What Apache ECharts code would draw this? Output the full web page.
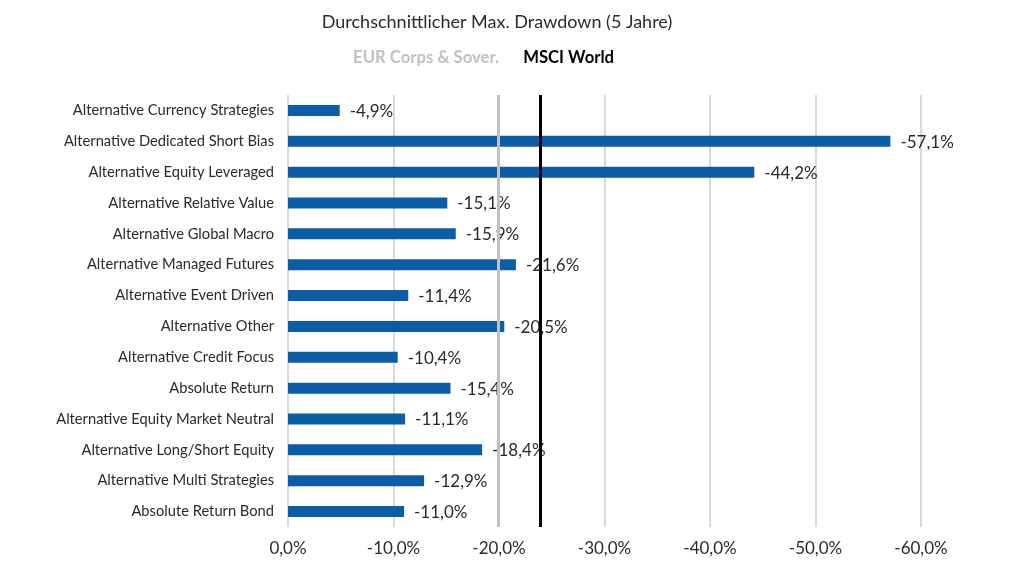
<!DOCTYPE html>
<html>
<head>
<meta charset="utf-8">
<script src="https://cdn.jsdelivr.net/npm/echarts@6/dist/echarts.min.js"></script>
<style>
  html, body { margin: 0; padding: 0; background: #fff; }
  #chart { width: 1015px; height: 571px; }
</style>
</head>
<body>
<div id="chart"></div>
<script>
const categories = [
  "Alternative Currency Strategies",
  "Alternative Dedicated Short Bias",
  "Alternative Equity Leveraged",
  "Alternative Relative Value",
  "Alternative Global Macro",
  "Alternative Managed Futures",
  "Alternative Event Driven",
  "Alternative Other",
  "Alternative Credit Focus",
  "Absolute Return",
  "Alternative Equity Market Neutral",
  "Alternative Long/Short Equity",
  "Alternative Multi Strategies",
  "Absolute Return Bond",
];

const drawdown = [-4.9, -57.1, -44.2, -15.1, -15.9, -21.6, -11.4, -20.5, -10.4, -15.4, -11.1, -18.4, -12.9, -11.0];

// benchmark lines
const benchmarks = [
  { name: "EUR Corps & Sover.", value: -19.9, color: "#c0c0c0" },
  { name: "MSCI World", value: -23.9, color: "#000000" },
];

const fmt = (v) => v.toFixed(1).replace(".", ",") + "%";
const FONT = "Lato";

const chartDom = document.getElementById("chart");
const myChart = echarts.init(chartDom);

myChart.setOption({
  animation: false,
  textStyle: { fontFamily: FONT },
  title: {
    text: "Durchschnittlicher Max. Drawdown (5 Jahre)",
    left: 492,
    textAlign: "center",
    top: 8,
    textStyle: { fontFamily: FONT, fontSize: 18, fontWeight: "normal", color: "#2a2a2a" },
  },
  grid: { left: 288, right: 94, top: 95, bottom: 44, containLabel: false },
  xAxis: {
    type: "value",
    min: -60,
    max: 0,
    interval: 10,
    inverse: true,
    axisLine: { show: false },
    axisTick: { show: false },
    splitLine: { lineStyle: { color: "#d9d9d9", width: 2 } },
    axisLabel: {
      formatter: (v) => fmt(v),
      fontFamily: FONT,
      fontSize: 17,
      color: "#2a2a2a",
      margin: 13,
    },
  },
  yAxis: {
    type: "category",
    data: categories,
    inverse: true,
    axisLine: { show: false },
    axisTick: { show: false },
    axisLabel: { fontFamily: FONT, fontSize: 14.7, color: "#2a2a2a", margin: 14 },
  },
  series: [
    {
      type: "bar",
      data: drawdown,
      barWidth: 11,
      itemStyle: { color: "#0b5da8" },
      label: {
        show: true,
        position: "right",
        distance: 10,
        formatter: (p) => fmt(p.value),
        fontFamily: FONT,
        fontSize: 17,
        color: "#2a2a2a",
        offset: [0, 1],
      },
      markLine: {
        silent: true,
        symbol: "none",
        label: { show: false },
        data: benchmarks.map((b) => ({
          xAxis: b.value,
          lineStyle: { color: b.color, width: 3, type: "solid" },
        })),
      },
      z: 3,
    },
  ],
});

// benchmark names above the lines, placed via the axis scale
const xEur = myChart.convertToPixel({ xAxisIndex: 0 }, benchmarks[0].value);
const xMsci = myChart.convertToPixel({ xAxisIndex: 0 }, benchmarks[1].value);
myChart.setOption({
  graphic: [
    {
      type: "text",
      x: xEur + 1,
      y: 58,
      style: {
        text: benchmarks[0].name,
        align: "right",
        verticalAlign: "middle",
        fill: "#c0c0c0",
        font: "bold 16.7px " + FONT,
      },
    },
    {
      type: "text",
      x: xMsci - 17,
      y: 58,
      style: {
        text: benchmarks[1].name,
        align: "left",
        verticalAlign: "middle",
        fill: "#000",
        font: "bold 16.7px " + FONT,
      },
    },
  ],
});

window.addEventListener("resize", () => {
  myChart.resize();
});
</script>
</body>
</html>
